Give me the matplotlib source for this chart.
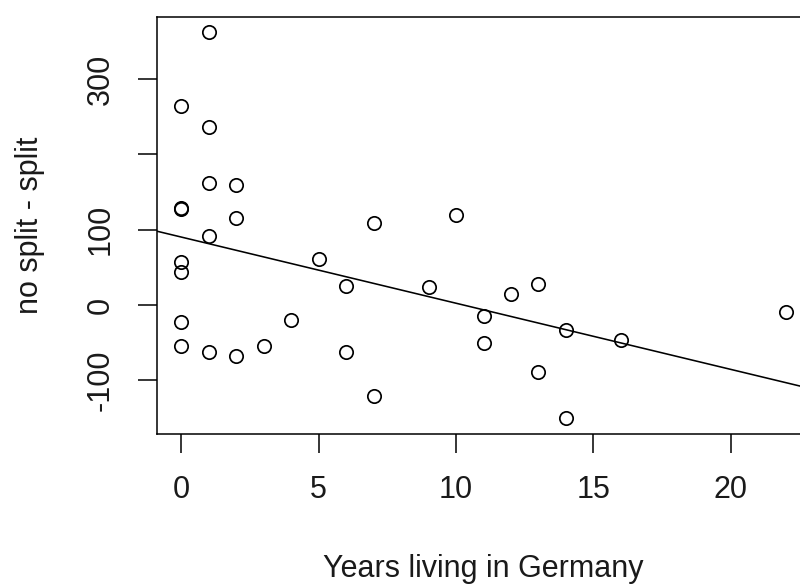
import numpy as np
import matplotlib
matplotlib.use("Agg")
import matplotlib.pyplot as plt

plt.rcParams['font.family'] = ['Liberation Sans', 'DejaVu Sans']

# Years living in Germany and the corresponding (no split - split) difference
years = [0, 0, 0, 0, 0, 0, 0,
         1, 1, 1, 1, 1,
         2, 2, 2,
         3, 4, 5,
         6, 6,
         7, 7,
         9, 10,
         11, 11,
         12,
         13, 13,
         14, 14,
         16, 22]
diff = [264, 129, 127, 57, 44, -22, -54,
        362, 237, 162, 92, -62,
        160, 116, -68,
        -54, -20, 61,
        26, -62,
        109, -121,
        24, 119,
        -14, -50,
        15,
        28, -89,
        -33, -150,
        -47, -9]

x_ticks = [0, 5, 10, 15, 20]
y_ticks = [-100, 0, 100, 200, 300]
y_tick_labels = ['-100', '0', '100', '', '300']

x = np.array(years, dtype=float)
y = np.array(diff, dtype=float)
slope, intercept = np.polyfit(x, y, 1)

fig = plt.figure(figsize=(8.0, 5.85), dpi=100)
ax = fig.add_axes([157 / 800, 1 - 433.5 / 585, (810 - 157) / 800, (433.5 - 17) / 585])

ax.plot(x, y, linestyle='none', marker='o', markersize=9.6,
        markerfacecolor='none', markeredgecolor='black', markeredgewidth=1.25)

# R-style 4% padding around the data range
xr = x.max() - x.min()
yr = y.max() - y.min()
xlim = (x.min() - 0.04 * xr, x.max() + 0.04 * xr)
ylim = (y.min() - 0.04 * yr, y.max() + 0.04 * yr)
ax.set_xlim(*xlim)
ax.set_ylim(*ylim)

xl = np.array(xlim)
ax.plot(xl, intercept + slope * xl, color='black', linewidth=1.15)

ax.set_xticks(x_ticks)
ax.set_xticklabels([str(t) for t in x_ticks])
ax.set_yticks(y_ticks)
ax.set_yticklabels(y_tick_labels)

ax.tick_params(axis='both', direction='out', length=13.7, width=1.1,
               pad=16, labelsize=22, color='black', labelcolor='#1a1a1a')
for lab in ax.get_yticklabels():
    lab.set_rotation(90)
    lab.set_va('center')
    lab.set_ha('right')

for side in ['left', 'bottom', 'top', 'right']:
    ax.spines[side].set_linewidth(1.1)
    ax.spines[side].set_color('black')

fig.text(483.5 / 800, 1 - 577 / 585, 'Years living in Germany', ha='center',
         va='baseline', fontsize=22, color='#1a1a1a')
fig.text(30 / 800, 1 - 225.5 / 585, 'no split - split', ha='center',
         va='center', rotation=90, fontsize=22, color='#1a1a1a')

fig.savefig('out.png', dpi=100, facecolor='white')
